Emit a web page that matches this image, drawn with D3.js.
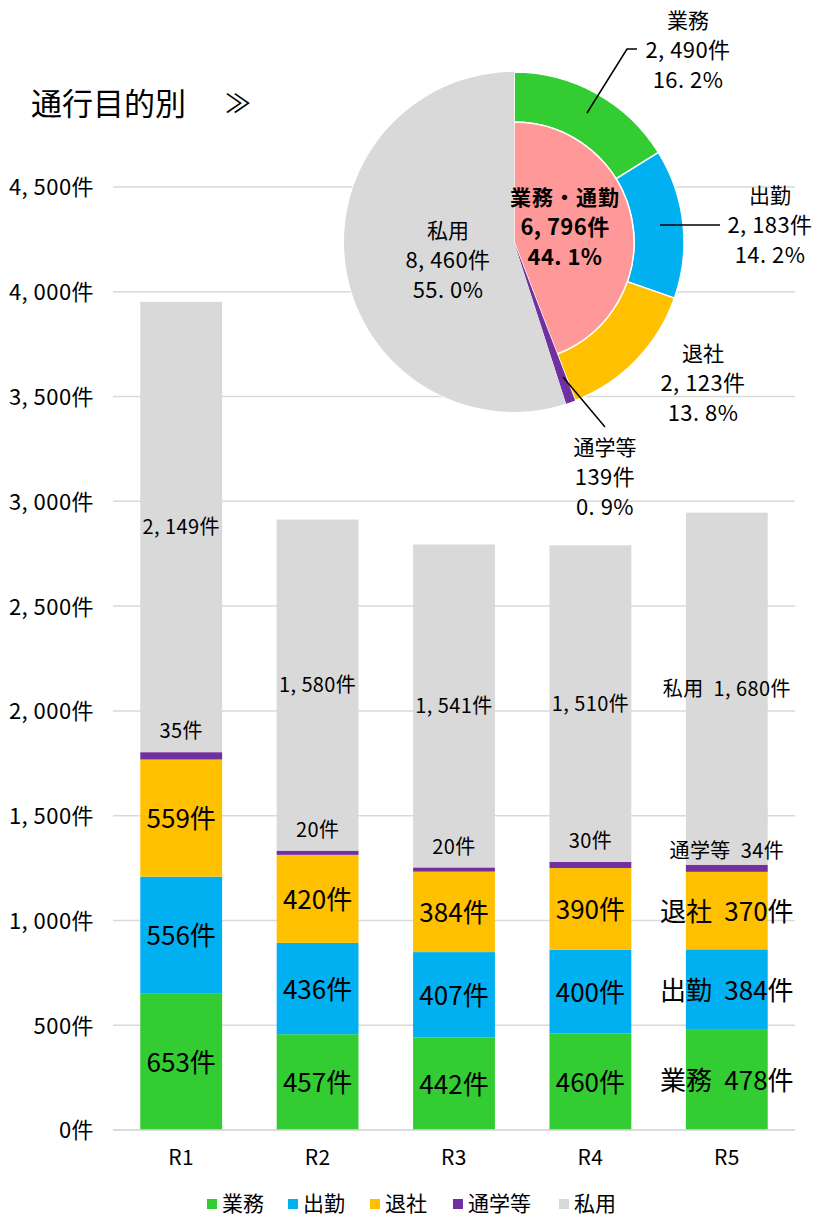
<!DOCTYPE html>
<html><head><meta charset="utf-8">
<script src="https://cdn.jsdelivr.net/npm/d3@7"></script>
<style>body{margin:0;background:#fff}svg{display:block;font-family:"Liberation Sans Narrow","Noto Sans CJK JP",sans-serif}</style>
</head><body><svg id="c" width="816" height="1217"></svg>
<script>
const years = ["R1","R2","R3","R4","R5"];
const seriesNames = ["業務","出勤","退社","通学等","私用"];
const gyomu = [653,457,442,460,478];
const shukkin = [556,436,407,400,384];
const taisha = [559,420,384,390,370];
const tsugaku = [35,20,20,30,34];
const shiyo = [2149,1580,1541,1510,1680];
const yTicks = [0,500,1000,1500,2000,2500,3000,3500,4000,4500];
const pieValues = [2490,2183,2123,139,8460];
const innerName = "業務・通勤";
const colors = ["#33CC33","#00B0F0","#FFC000","#7030A0","#D9D9D9"];
const pink = "#FF9999";

const svg = d3.select("#c");
const fmt = d3.format(",");
const CJK = "'Noto Sans CJK JP',sans-serif";

function rich(sel, str, f, ls){
  sel.text(null).attr("font-size",f).attr("letter-spacing",ls==null?"0.02em":ls);
  let buf="", pdx=0;
  const flush=()=>{ if(buf){ const t=sel.append("tspan").text(buf); if(pdx) t.attr("dx",pdx); buf=""; pdx=0; } };
  for(const ch of str){
    buf+=ch;
    if(ch===","||ch==="."||ch===" "){ flush(); pdx=0.25*f; }
  }
  flush();
  return sel;
}

const x = d3.scaleBand().domain(years).range([113,795]).paddingInner(0.4).paddingOuter(0.2);
const y = d3.scaleLinear().domain([0,4500]).range([1130,187]);

svg.append("g").selectAll("line").data(yTicks).join("line")
  .attr("x1",113).attr("x2",795).attr("y1",d=>y(d)).attr("y2",d=>y(d))
  .attr("stroke","#d9d9d9").attr("stroke-width",1.5);

const yAxis = d3.axisLeft(y).tickValues(yTicks).tickSize(0).tickPadding(0).tickFormat(d=>fmt(d)+"件");
const ya = svg.append("g").attr("transform","translate(94,0)").call(yAxis);
ya.select(".domain").remove();
ya.attr("font-family",null).attr("font-size",null);
ya.selectAll("text").attr("fill","#000").attr("dy","0.36em").each(function(d){ rich(d3.select(this), fmt(d)+"件", 22); });

const xAxis = d3.axisBottom(x).tickSize(0).tickPadding(0);
const xa = svg.append("g").attr("transform","translate(0,1157)").call(xAxis);
xa.select(".domain").remove();
xa.attr("font-family",null).attr("font-size",null);
xa.selectAll("text").attr("fill","#000").attr("dy","0.36em").each(function(d){ rich(d3.select(this), d, 21); });

const table = years.map((yr,i)=>({yr, "業務":gyomu[i],"出勤":shukkin[i],"退社":taisha[i],"通学等":tsugaku[i],"私用":shiyo[i]}));
const stack = d3.stack().keys(seriesNames)(table);
const bw = x.bandwidth();
stack.forEach((s,si)=>{
  svg.append("g").selectAll("rect").data(s).join("rect")
    .attr("x",d=>x(d.data.yr)).attr("width",bw)
    .attr("y",d=>y(d[1])).attr("height",d=>y(d[0])-y(d[1]))
    .attr("fill",colors[si]);
});
svg.append("line").attr("x1",113).attr("x2",795).attr("y1",1130).attr("y2",1130).attr("stroke","#d9d9d9").attr("stroke-width",1.5);

stack.forEach((s,si)=>{
  s.forEach((d,i)=>{
    const cx = x(d.data.yr)+bw/2;
    const v = d[1]-d[0];
    const last = i===years.length-1;
    let txt = fmt(v)+"件";
    if (last) txt = seriesNames[si]+" "+txt;
    let cy, fs;
    if (si<3){ cy=(y(d[0])+y(d[1]))/2+1; fs=26; }
    else if (si===3){ cy=y(d[1])-(last?14:21); fs=20; }
    else { cy=(y(d[0])+y(d[1]))/2; fs=20; }
    const t = svg.append("text").attr("x",cx).attr("y",cy).attr("text-anchor","middle")
      .attr("dy","0.36em").attr("fill","#000");
    rich(t, txt, fs, si<3 ? "0em" : null);
  });
});

svg.append("text").attr("x",31).attr("y",104).attr("dy","0.36em").attr("font-family",CJK)
  .attr("font-size",31).attr("fill","#000").text("通行目的別");
svg.append("text").attr("x",225).attr("y",104).attr("dy","0.36em").attr("font-family",CJK)
  .attr("font-size",26).attr("fill","#000").text("≫");

const pc = [514,242], R = 170, r = 120;
const total = d3.sum(pieValues);
const pie = d3.pie().sort(null).value(d=>d)(pieValues);
const pg = svg.append("g").attr("transform",`translate(${pc[0]},${pc[1]})`);
pg.selectAll("path.o").data(pie).join("path")
  .attr("d",(d,i)=>d3.arc().innerRadius(i<3?r:0).outerRadius(R)(d))
  .attr("fill",(d,i)=>colors[i]).attr("stroke","#fff").attr("stroke-width",1.5);
const innerVal = d3.sum(pieValues.slice(0,3));
pg.append("path").attr("d",d3.arc().innerRadius(0).outerRadius(r)({startAngle:0,endAngle:pie[2].endAngle}))
  .attr("fill",pink).attr("stroke","#fff").attr("stroke-width",1.5);
pg.selectAll("path.o2").data(pie.slice(3)).join("path")
  .attr("d",d3.arc().innerRadius(0).outerRadius(R)).attr("fill",(d,i)=>colors[i+3]);

const pct = v => (v/total*100).toFixed(1)+"%";
const lbls = [
  {dx:174, dy:[-222,-192,-162], lines:[seriesNames[0],fmt(pieValues[0])+"件",pct(pieValues[0])]},
  {dx:256, dy:[-47,-17,13], lines:[seriesNames[1],fmt(pieValues[1])+"件",pct(pieValues[1])]},
  {dx:189, dy:[111,141,171], lines:[seriesNames[2],fmt(pieValues[2])+"件",pct(pieValues[2])]},
  {dx:91, dy:[205,235,265], lines:[seriesNames[3],fmt(pieValues[3])+"件",pct(pieValues[3])]},
  {dx:-66, dy:[-12,18,48], lines:[seriesNames[4],fmt(pieValues[4])+"件",pct(pieValues[4])]},
  {dx:51, dy:[-45,-15,15], lines:[innerName,fmt(innerVal)+"件",pct(innerVal)], bold:true}
];
lbls.forEach(l=>{
  l.lines.forEach((t,k)=>{
    const el = pg.append("text").attr("x",l.dx).attr("y",l.dy[k]).attr("text-anchor","middle")
      .attr("dy","0.36em").attr("fill","#000").attr("font-weight",l.bold?"bold":"normal");
    if(k===0) el.attr("font-family",CJK).attr("font-size",21).attr("letter-spacing",l.bold?"0.05em":null).text(t);
    else rich(el, t, 22);
  });
});
const leaders = [
  [[73,-129],[113,-193],[123,-193]],
  [[146,-17],[206,-17]],
  [[49,135],[91,185]]
];
leaders.forEach(p=>pg.append("path").attr("d",d3.line()(p)).attr("fill","none").attr("stroke","#000").attr("stroke-width",1.5));

const lx = [207,288,370,453,559];
const lg = svg.append("g");
seriesNames.forEach((n,i)=>{
  lg.append("rect").attr("x",lx[i]).attr("y",1199).attr("width",10).attr("height",10).attr("fill",colors[i]);
  lg.append("text").attr("x",lx[i]+15).attr("y",1203).attr("dy","0.36em").attr("font-family",CJK)
    .attr("font-size",21).attr("fill","#000").text(n);
});
</script></body></html>
